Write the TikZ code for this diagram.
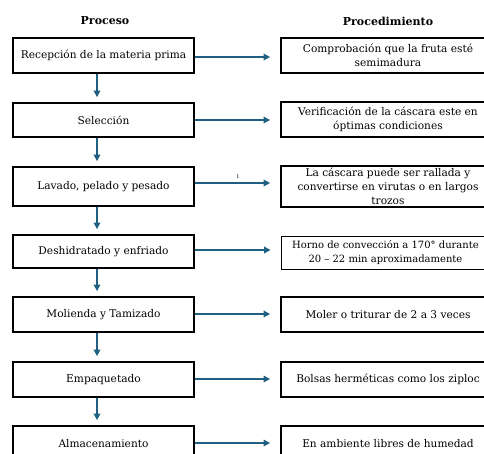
\documentclass[tikz,border=0pt]{standalone}
\usepackage{fontspec}
\setmainfont{DejaVu Serif}
\usetikzlibrary{arrows.meta}
\definecolor{arrowblue}{HTML}{1F5F82}
\tikzset{
  lbox/.style={draw=black, line width=1.8pt, minimum width=181pt, inner sep=0pt, align=center, font=\fontsize{10.6}{13.7}\selectfont},
  rbox/.style={draw=black, line width=1.8pt, minimum width=214pt, inner sep=0pt, align=center, font=\fontsize{10.6}{13.7}\selectfont},
  hdr/.style={font=\fontsize{11}{12}\selectfont\bfseries},
  flow/.style={draw=arrowblue, line width=1.9pt, -{Triangle[length=6.5pt,width=6.5pt]}},
}
\begin{document}
\begin{tikzpicture}[x=1pt,y=-1pt]
\clip (0,0) rectangle (484,453);
\useasboundingbox (0,0) rectangle (484,453);
\node[hdr] (h1) at (105,21) {Proceso};
\node[hdr] (h2) at (388,21) {Procedimiento};
% left boxes
\node[lbox, minimum height=35pt] (L1) at (103.5,55.5) {Recepción de la materia prima};
\node[lbox, minimum height=34pt] (L2) at (103.5,120) {Selección};
\node[lbox, minimum height=39pt] (L3) at (103.5,186.5) {Lavado, pelado y pesado};
\node[lbox, minimum height=33pt] (L4) at (103.5,251.5) {Deshidratado y enfriado};
\node[lbox, minimum height=35pt] (L5) at (103.5,314.5) {Molienda y Tamizado};
\node[lbox, minimum height=35pt] (L6) at (103.5,379.5) {Empaquetado};
\node[lbox, minimum height=35pt] (L7) at (103.5,443.5) {Almacenamiento};
% right boxes
\node[rbox, minimum height=35pt] (R1) at (388,55.5) {Comprobación que la fruta esté\\semimadura};
\node[rbox, minimum height=35pt] (R2) at (388,119.5) {Verificación de la cáscara este en\\óptimas condiciones};
\node[rbox, minimum height=41pt] (R3) at (388,186.5) {La cáscara puede ser rallada y\\convertirse en virutas o en largos\\trozos};
\node[rbox, line width=0.9pt, minimum height=33pt] (R4) at (388,252.5) {};
\node[align=center, inner sep=0pt, font=\fontsize{10}{13.7}\selectfont] (R4t) at (385.5,252.5) {Horno de convección a 170° durante\\20 – 22 min aproximadamente};
\node[rbox, minimum height=35pt] (R5) at (388,314.5) {Moler o triturar de 2 a 3 veces};
\node[rbox, minimum height=35pt] (R6) at (388,379.5) {Bolsas herméticas como los ziploc};
\node[rbox, minimum height=35pt] (R7) at (388,443.5) {En ambiente libres de humedad};
% vertical arrows
\foreach \a/\b in {L1/L2,L2/L3,L3/L4,L4/L5,L5/L6,L6/L7}{
  \draw[flow, shorten >=5pt] ([xshift=-6.5pt]\a.south) -- ([xshift=-6.5pt]\a.south |- \b.north);
}
% horizontal arrows
\foreach \a/\b/\s in {L1/R1/-1.5,L2/R2/0,L3/R3/3.5,L4/R4/1.5,L5/R5/0.5,L6/R6/0.5,L7/R7/0.5}{
  \draw[flow, shorten >=10pt] ([yshift=\s pt]\a.east) -- ([yshift=\s pt]\a.east -| \b.west);
}
\node[font=\fontsize{5}{5}\selectfont] (one) at (238,177) {1};
\end{tikzpicture}
\end{document}
